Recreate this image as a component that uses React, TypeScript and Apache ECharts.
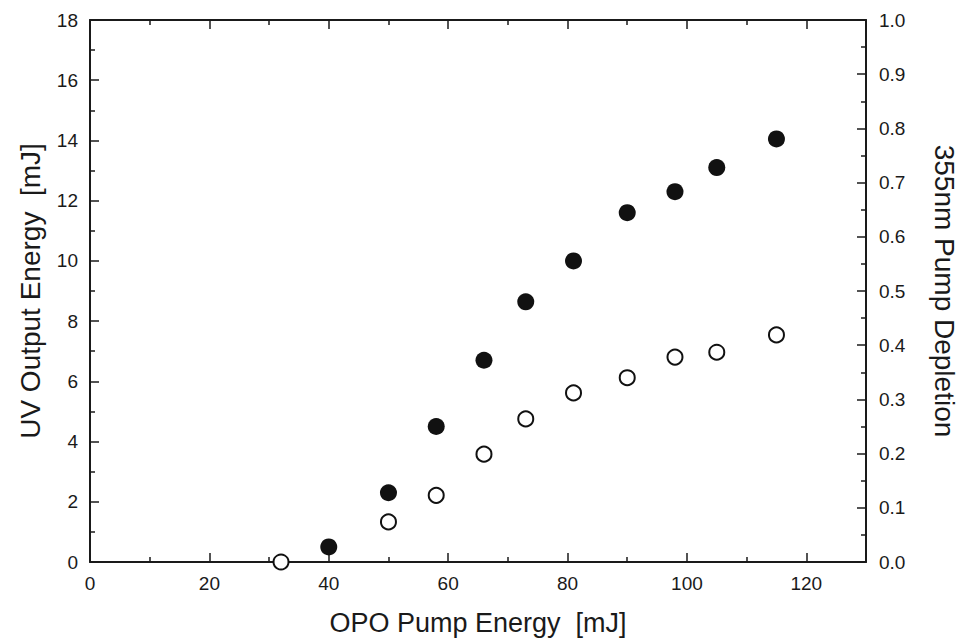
import React, { useEffect, useRef } from "react";
import * as echarts from "echarts";

const pumpEnergy = [40, 50, 58, 66, 73, 81, 90, 98, 105, 115];
const uvOutput = [0.5, 2.3, 4.5, 6.7, 8.64, 10.0, 11.6, 12.3, 13.1, 14.05];
const depletionEnergy = [32, 50, 58, 66, 73, 81, 90, 98, 105, 115];
const depletion = [0.0, 0.074, 0.123, 0.199, 0.264, 0.312, 0.34, 0.378, 0.387, 0.419];

const FONT = "Liberation Sans, Arial, Helvetica, sans-serif";
const INK = "#1a1a1a";

export default function App() {
  const ref = useRef<HTMLDivElement>(null);
  useEffect(() => {
    if (!ref.current) return;
    const chart = echarts.init(ref.current, undefined, { renderer: "svg" });
    const lineStyle = { color: INK, width: 2 };
    const tick = { show: true, inside: true, length: 9, lineStyle: { color: INK, width: 1.5 } };
    const minor = { show: true, splitNumber: 2, length: 5, lineStyle: { color: INK, width: 1.5 } };
    const label = { color: INK, fontSize: 19, fontFamily: FONT };
    const nameStyle = (size: number) => ({ color: INK, fontSize: size, fontFamily: FONT });
    chart.setOption({
      animation: false,
      backgroundColor: "#fff",
      grid: { left: 90, width: 779, top: 20, bottom: 82, containLabel: false },
      xAxis: [
        {
          type: "value", position: "bottom", min: 0, max: 130, interval: 20,
          axisLine: { show: true, lineStyle, onZero: false }, axisTick: tick, minorTick: minor,
          splitLine: { show: false },
          axisLabel: { ...label, margin: 12, showMaxLabel: false },
          name: "OPO Pump Energy  [mJ]", nameLocation: "middle", nameGap: 47, nameTextStyle: nameStyle(27),
        },
        {
          type: "value", position: "top", min: 0, max: 130, interval: 20,
          axisLine: { show: true, lineStyle, onZero: false }, axisTick: tick, minorTick: minor,
          splitLine: { show: false }, axisLabel: { show: false },
        },
      ],
      yAxis: [
        {
          type: "value", position: "left", min: 0, max: 18, interval: 2,
          axisLine: { show: true, lineStyle, onZero: false }, axisTick: tick, minorTick: minor,
          splitLine: { show: false }, axisLabel: { ...label, margin: 12 },
          name: "UV Output Energy  [mJ]", nameLocation: "middle", nameGap: 46, nameTextStyle: nameStyle(28),
        },
        {
          type: "value", position: "right", min: 0, max: 1, interval: 0.1,
          axisLine: { show: true, lineStyle, onZero: false }, axisTick: tick, minorTick: minor,
          splitLine: { show: false },
          axisLabel: { ...label, margin: 13, formatter: (v: number) => v.toFixed(1) },
          name: "355nm Pump Depletion", nameLocation: "middle", nameGap: 64, nameRotate: -90,
          nameTextStyle: nameStyle(28),
        },
      ],
      series: [
        {
          type: "scatter", xAxisIndex: 0, yAxisIndex: 0,
          data: pumpEnergy.map((x, i) => [x, uvOutput[i]]),
          symbol: "circle", symbolSize: 17,
          itemStyle: { color: "#111", borderColor: "#111", borderWidth: 0, opacity: 1 },
          z: 5,
        },
        {
          type: "scatter", xAxisIndex: 0, yAxisIndex: 1,
          data: depletionEnergy.map((x, i) => [x, depletion[i]]),
          symbol: "circle", symbolSize: 15,
          itemStyle: { color: "#fff", borderColor: "#111", borderWidth: 2, opacity: 1 },
          z: 5,
        },
      ],
    });
    return () => chart.dispose();
  }, []);
  return (
    <div style={{ position: "fixed", left: 0, top: 0, width: 966, height: 644, overflow: "hidden" }}>
      <div ref={ref} style={{ width: 966, height: 644 }} />
    </div>
  );
}
